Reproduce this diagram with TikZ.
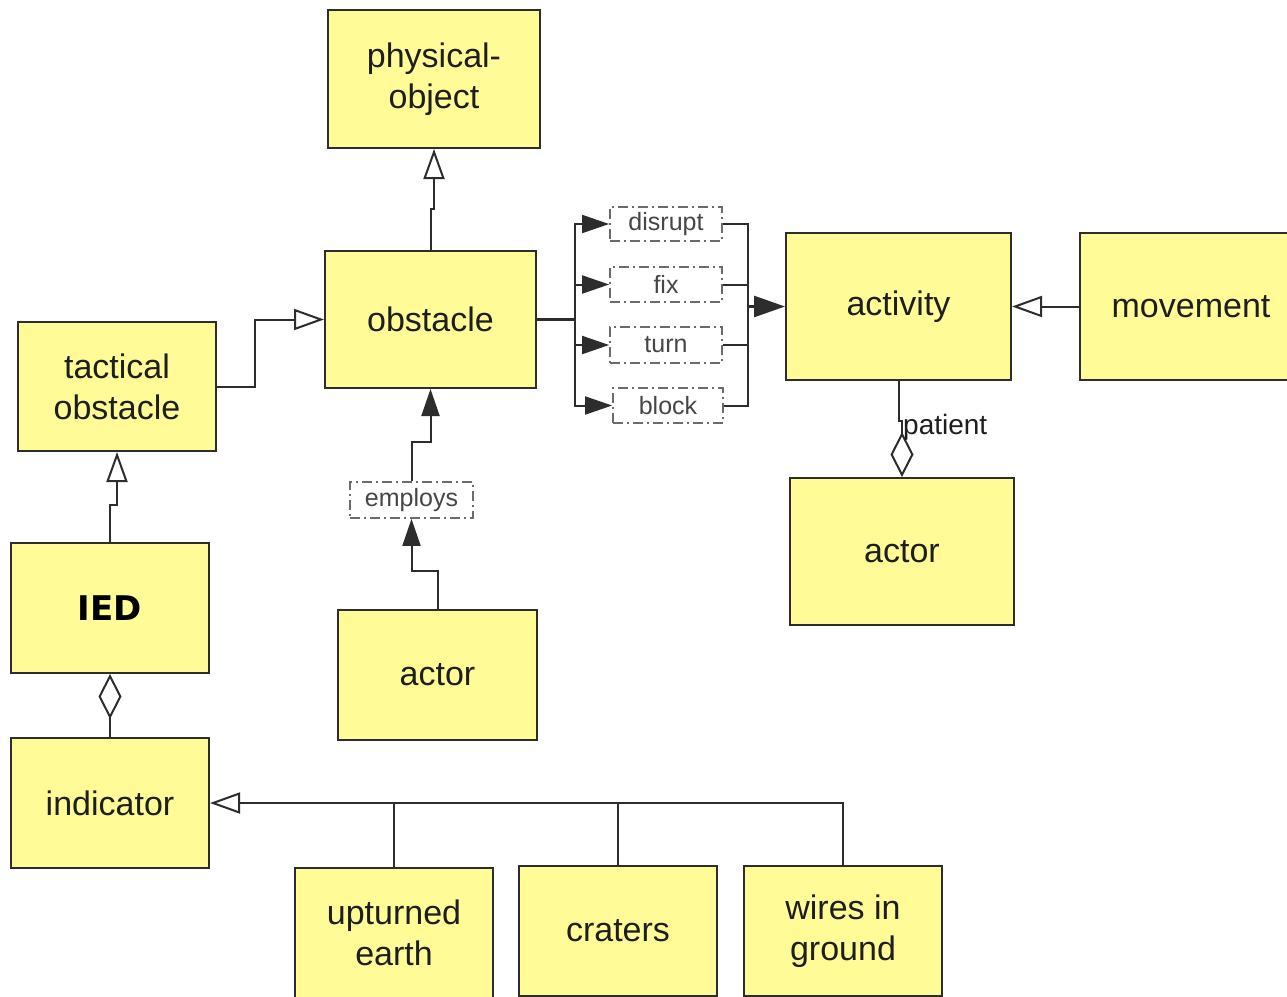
\documentclass[tikz,border=0pt]{standalone}
\usepackage{fontspec}
\setmainfont{Liberation Sans}
\newfontfamily\iedfont{DejaVu Sans}
\usetikzlibrary{arrows.meta}
\definecolor{boxfill}{RGB}{255,252,152}
\definecolor{lncol}{RGB}{45,45,45}
\definecolor{txtcol}{RGB}{30,30,30}
\definecolor{lblcol}{RGB}{70,70,70}
\tikzset{
  box/.style={draw=lncol, fill=boxfill, line width=2pt, align=center, text=txtcol,
     font=\fontsize{34}{41}\selectfont, inner sep=0pt},
  lbl/.style={draw=lblcol!80, line width=1.8pt, dash pattern=on 10pt off 4pt on 2pt off 4pt,
     text=lblcol, font=\fontsize{25}{30}\selectfont, inner sep=0pt, fill=white},
  con/.style={draw=lncol, line width=2pt},
  ot/.style={con, -{Triangle[open, length=30pt, width=21pt]}},
  fa/.style={con, -{Triangle[length=27pt, width=18pt]}},
  fabig/.style={con, line width=2.6pt, -{Triangle[length=31pt, width=21pt]}},
  od/.style={con, -{Diamond[open, length=45pt, width=23pt]}},
}
\begin{document}
\begin{tikzpicture}[x=1pt, y=-1pt]
\useasboundingbox (0,0) rectangle (1287,996);
\fill[white] (0,0) rectangle (1287,996);
% boxes
\node[box, minimum width=212pt, minimum height=138pt] (phys) at (434,79) {physical-\\object};
\node[box, minimum width=211pt, minimum height=137pt] (obst) at (430.5,319.5) {obstacle};
\node[box, minimum width=198pt, minimum height=129pt] (tact) at (117,386.5) {tactical\\obstacle};
\node[box, minimum width=198pt, minimum height=130pt, text=black] (ied) at (110,608) {\iedfont\bfseries\fontsize{34}{41}\selectfont IED};
\node[box, minimum width=198pt, minimum height=130pt] (ind) at (110,803) {indicator};
\node[box, minimum width=199pt, minimum height=130pt] (actorB) at (437.5,675) {actor};
\node[box, minimum width=225pt, minimum height=147pt] (act) at (898.5,306.5) {activity};
\node[box, minimum width=222pt, minimum height=147pt] (move) at (1191,306.5) {movement};
\node[box, minimum width=224pt, minimum height=147pt] (actorR) at (902,551.5) {actor};
\node[box, minimum width=198pt, minimum height=130pt] (up) at (394,933) {upturned\\earth};
\node[box, minimum width=198pt, minimum height=130pt] (crat) at (618,931) {craters};
\node[box, minimum width=198pt, minimum height=130pt] (wire) at (843,931) {wires in\\ground};
% dashed labels
\node[lbl, minimum width=112pt, minimum height=34pt] (disrupt) at (666,224) {disrupt};
\node[lbl, minimum width=112pt, minimum height=35pt] (fix) at (666,284.5) {fix};
\node[lbl, minimum width=112pt, minimum height=36pt] (turn) at (666,345) {turn};
\node[lbl, minimum width=110pt, minimum height=35pt] (block) at (668,405.5) {block};
\node[lbl, minimum width=123pt, minimum height=36pt] (employs) at (411.5,500) {employs};
% generalizations
\draw[ot] (obst.north) -- ++(0,-41) -| (phys.south);
\draw[ot] (tact.east) -- (255,386.5) |- (obst.west);
\draw[ot] (ied.north) -- (110,505) -| (tact.south);
\draw[ot] (move.west) -- (act.east);
\draw[ot] (wire.north) |- (ind.east);
\draw[con] (up.north) -- (up.north |- ind.east);
\draw[con] (crat.north) -- (crat.north |- ind.east);
% aggregations
\draw[od] (ind.north) -- (ied.south);
\draw[od] (act.south) -- ++(0,40) -| (actorR.north);
\node[anchor=west, text=txtcol, font=\fontsize{28}{33}\selectfont, inner sep=0pt] (patient) at (903,427) {patient};
% employs
\draw[fa] (actorB.north) -- ++(0,-38) -| (employs.south);
\draw[fa] (employs.north) -- ++(0,-39) -| (obst.south);
% relations obstacle -> activity
\coordinate (lsplit) at (575,319.5);
\coordinate (rjoin) at (748,306.5);
\draw[con, line width=2.8pt] (obst.east) -- (lsplit);
\foreach \n in {disrupt,fix,turn,block}{
  \draw[fa] (lsplit) |- (\n.west);
  \draw[con] (\n.east) -| (rjoin);
}
\draw[fabig] (rjoin) -- (act.west);
\end{tikzpicture}
\end{document}
